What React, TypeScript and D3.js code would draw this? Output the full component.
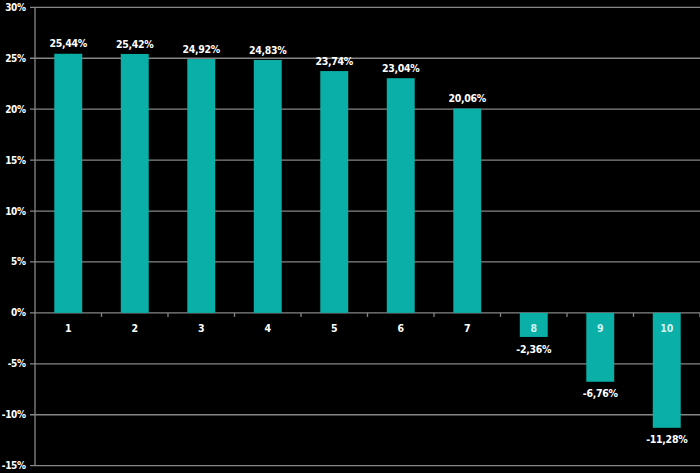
import React from "react";
import * as d3 from "d3";

const categories = ["1", "2", "3", "4", "5", "6", "7", "8", "9", "10"];
const values = [25.44, 25.42, 24.92, 24.83, 23.74, 23.04, 20.06, -2.36, -6.76, -11.28];
const yTicks = [30, 25, 20, 15, 10, 5, 0, -5, -10, -15];

const W = 700;
const H = 473;
const M = { left: 35, right: 0, top: 7.3, bottom: 7.3 };
const FONT = "'DejaVu Sans Condensed', 'Liberation Sans Narrow', 'Liberation Sans', sans-serif";

export default function App() {
  const x = d3.scaleBand<string>().domain(categories).range([M.left, W - M.right]).paddingInner(0.58).paddingOuter(0.29);
  const xb = d3.scaleBand<string>().domain(categories).range([M.left, W - M.right]);
  const y = d3.scaleLinear().domain([-15, 30]).range([H - M.bottom, M.top]);
  const fmt = (v: number) => v.toFixed(2).replace(".", ",") + "%";
  const grid = "#868686";
  const teal = "#0AAFA8";
  return (
    <svg width={W} height={H} style={{ position: "absolute", left: 0, top: 0, background: "#000" }}>
      <rect x={0} y={0} width={W} height={H} fill="#000" />
      {yTicks.map((t) => (
        <g key={t}>
          <line x1={M.left - 5} x2={W} y1={y(t)} y2={y(t)} stroke={grid} strokeWidth={1.3} />
          <text x={25.5} y={y(t)} dy="0.35em" textAnchor="end" fill="#fff" fontFamily={FONT} fontWeight="bold" fontSize={10}
            letterSpacing={-0.4}>
            {t}%
          </text>
        </g>
      ))}
      <line x1={M.left} x2={M.left} y1={y(30)} y2={y(-15)} stroke={grid} strokeWidth={1.3} />
      {categories.map((c) => (
        <line key={"tk" + c} x1={xb(c)! + xb.bandwidth()} x2={xb(c)! + xb.bandwidth()} y1={y(0)} y2={y(0) + 4} stroke={grid} strokeWidth={1.3} />
      ))}
      {categories.map((c, i) => {
        const v = values[i];
        return (
          <rect key={"b" + c} x={x(c)!} width={x.bandwidth()} y={y(Math.max(0, v))} height={Math.abs(y(v) - y(0))} fill={teal} />
        );
      })}
      {categories.map((c, i) => (
        <text key={"cl" + c} x={x(c)! + x.bandwidth() / 2} y={y(0) + 15} dy="0.35em" textAnchor="middle"
          fill={values[i] < 0 ? "#d4f2f0" : "#fff"} fontFamily={FONT} fontWeight="bold" fontSize={10.5}>
          {c}
        </text>
      ))}
      {categories.map((c, i) => {
        const v = values[i];
        const yy = v >= 0 ? y(v) - 10 : y(v) + 12;
        return (
          <text key={"l" + c} x={x(c)! + x.bandwidth() / 2} y={yy} dy="0.35em" textAnchor="middle" fill="#fff"
            fontFamily={FONT} fontWeight="bold" fontSize={10.5} letterSpacing={-0.3}>
            {fmt(v)}
          </text>
        );
      })}
    </svg>
  );
}
